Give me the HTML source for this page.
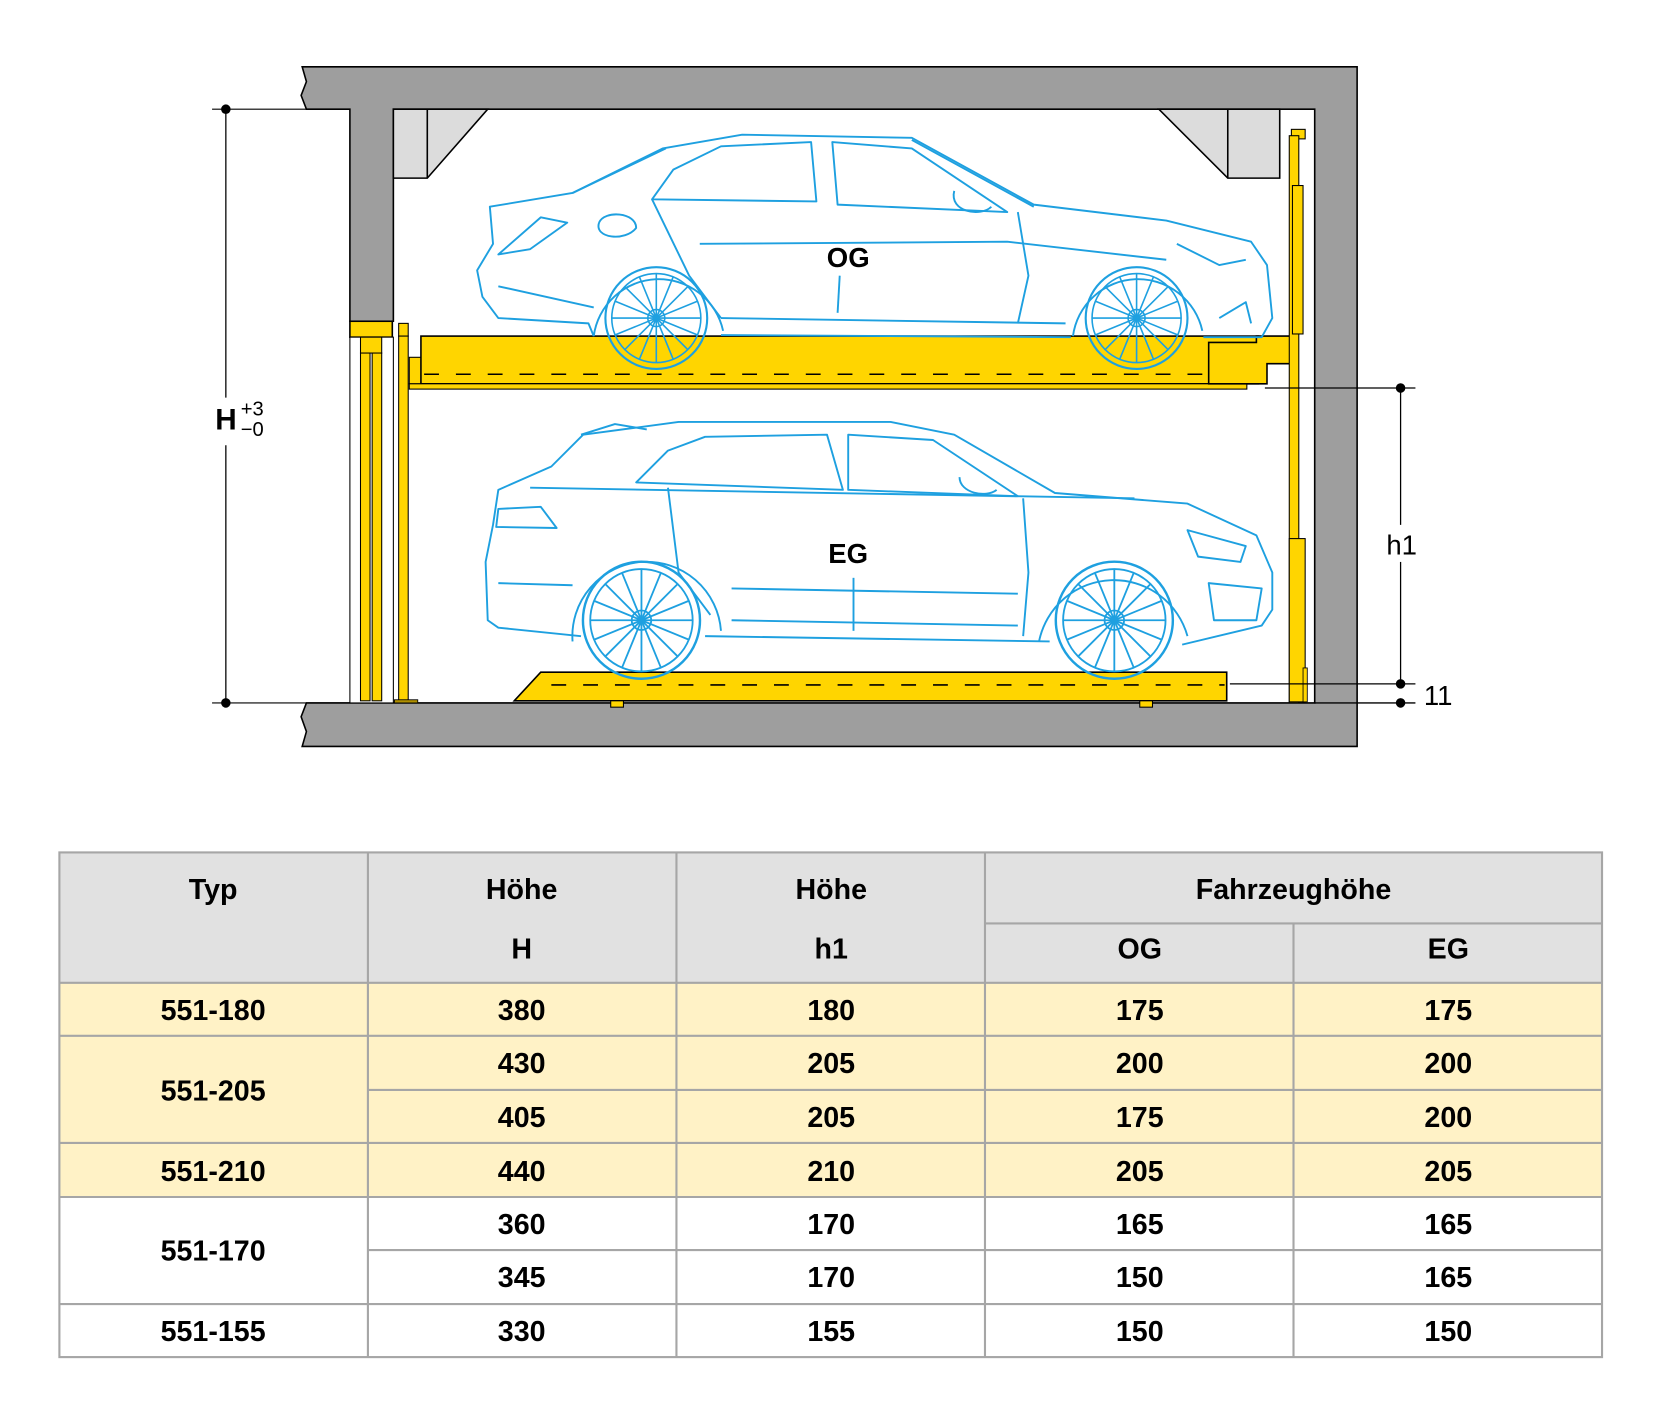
<!DOCTYPE html>
<html><head><meta charset="utf-8"><style>
html,body{margin:0;padding:0;background:#fff}
svg{display:block}
text{font-family:"Liberation Sans Narrow","Liberation Sans",sans-serif}
</style></head><body>
<svg width="1654" height="1417" viewBox="0 0 1560 1336.5" xmlns="http://www.w3.org/2000/svg">
<defs>
<g id="wh"><circle r="48" fill="none" stroke="#1ea0e0" stroke-width="2"/><circle r="42" fill="none" stroke="#1ea0e0" stroke-width="1.5"/><circle r="8" fill="none" stroke="#1ea0e0" stroke-width="1.5"/>
<g stroke="#1ea0e0" stroke-width="1.5">
<line x1="0" y1="-42" x2="0" y2="42"/><line x1="-42" y1="0" x2="42" y2="0"/><line x1="-30" y1="-30" x2="30" y2="30"/><line x1="-30" y1="30" x2="30" y2="-30"/>
<line x1="-16" y1="-39" x2="16" y2="39"/><line x1="16" y1="-39" x2="-16" y2="39"/><line x1="-39" y1="-16" x2="39" y2="16"/><line x1="-39" y1="16" x2="39" y2="-16"/></g></g>
</defs>
<!-- walls -->
<path d="M285,63 H1280 V704 H285 L289,690 L284,676 L289,663 H1240 V103 H371 V303 H330 V103 H289 L284,90 L289,77 Z" fill="#9e9e9e" stroke="#000" stroke-width="1.5"/>
<line x1="200" y1="103" x2="330" y2="103" stroke="#000" stroke-width="1"/>
<line x1="200" y1="663" x2="330" y2="663" stroke="#000" stroke-width="1"/>
<!-- ceiling beams -->
<path d="M371,103 H460 L403,168 H371 Z" fill="#dcdcdc" stroke="#000" stroke-width="1.5"/>
<line x1="403" y1="103" x2="403" y2="168" stroke="#000" stroke-width="1.5"/>
<path d="M1093,103 H1207 V168 H1158 Z" fill="#dcdcdc" stroke="#000" stroke-width="1.5"/>
<line x1="1158" y1="103" x2="1158" y2="168" stroke="#000" stroke-width="1.5"/>
<!-- left posts -->
<rect x="330" y="303" width="40" height="15" fill="#ffd500" stroke="#000" stroke-width="1.5"/>
<rect x="330" y="318" width="41" height="345" fill="#fff" stroke="#000" stroke-width="1"/>
<rect x="340" y="318" width="20" height="15" fill="#ffd500" stroke="#000" stroke-width="1"/>
<rect x="340" y="333" width="9" height="328" fill="#ffd500" stroke="#000" stroke-width="1"/>
<rect x="351" y="333" width="9" height="328" fill="#ffd500" stroke="#000" stroke-width="1"/>
<rect x="376" y="305" width="9" height="12" fill="#ffd500" stroke="#000" stroke-width="1"/>
<rect x="376" y="317" width="9" height="345" fill="#ffd500" stroke="#000" stroke-width="1"/>
<rect x="372" y="660" width="22" height="3" fill="#b09000" stroke="#000" stroke-width="0.8"/>
<!-- upper platform -->
<rect x="386" y="337" width="12" height="25" fill="#ffd500" stroke="#000" stroke-width="1"/>
<rect x="397" y="317" width="790" height="45" fill="#ffd500" stroke="#000" stroke-width="1.5"/>
<rect x="386" y="362" width="790" height="5" fill="#ffd500" stroke="#000" stroke-width="1"/>
<path d="M1140,323 H1185 V317 H1220 V343 H1195 V362 H1140 Z" fill="#ffd500" stroke="#000" stroke-width="1.5"/>
<line x1="400" y1="353" x2="1138" y2="353" stroke="#000" stroke-width="1.5" stroke-dasharray="14,16"/>
<!-- right post -->
<rect x="1218" y="122" width="13" height="9" fill="#ffd500" stroke="#000" stroke-width="1"/>
<rect x="1216" y="128" width="9" height="535" fill="#ffd500" stroke="#000" stroke-width="1"/>
<rect x="1219" y="175" width="10" height="140" fill="#ffd500" stroke="#000" stroke-width="1"/>
<rect x="1216" y="508" width="15" height="154" fill="#ffd500" stroke="#000" stroke-width="1"/>
<rect x="1229" y="630" width="4" height="32" fill="#ffd500" stroke="#000" stroke-width="0.8"/>
<!-- lower platform -->
<path d="M485,661 L510,634 H1157 V661 Z" fill="#ffd500" stroke="#000" stroke-width="1.5"/>
<line x1="520" y1="646" x2="1155" y2="646" stroke="#000" stroke-width="1.5" stroke-dasharray="14,16"/>
<rect x="576" y="661" width="12" height="6" fill="#ffd500" stroke="#000" stroke-width="1"/>
<rect x="1075" y="661" width="12" height="6" fill="#ffd500" stroke="#000" stroke-width="1"/>
<!-- sedan -->
<g fill="none" stroke="#1ea0e0" stroke-width="1.8" stroke-linejoin="round">
<path d="M560,317 L555,305 L470,300 L455,280 L450,255 L465,230 L462,195 L540,182 L625,140 L700,127 L860,130 L975,193 L1100,208 L1180,228 L1195,250 L1200,300 L1190,318 L1135,318 M1010,318 L680,316"/>
<path d="M560,317 A62,62 0 0 1 682,312"/><path d="M1012,317 A62,62 0 0 1 1134,312"/>
<path d="M615,188 L635,160 L680,138 L765,134 L770,190 Z"/>
<path d="M785,134 L860,140 L950,200 L790,193 Z"/>
<path d="M615,188 L650,260 L680,300 M960,200 L970,260 L960,305"/>
<path d="M470,240 L510,205 L535,210 L500,235 Z"/>
<path d="M565,210 C560,225 590,228 600,215 C600,200 570,198 565,210"/>
<path d="M660,230 L950,228 L1100,245 M680,300 L1005,305 M470,270 L560,290"/>
<path d="M1110,230 L1150,250 L1175,245 M1150,300 L1175,285 L1180,305"/>
<path d="M540,182 L628,140 M860,132 L975,195"/>
<path d="M900,180 C895,200 925,205 935,195"/>
<path d="M790,295 L792,260"/>
</g>
<use href="#wh" x="619" y="300"/><use href="#wh" x="1072" y="300"/>
<!-- SUV -->
<g fill="none" stroke="#1ea0e0" stroke-width="1.8" stroke-linejoin="round">
<path d="M548,600 L470,592 L460,585 L458,530 L465,495 L470,462 L520,440 L550,410 L640,398 L840,398 L900,410 L995,465 L1120,475 L1185,505 L1200,540 L1200,575 L1190,590 L1115,608 M990,605 L665,600"/>
<path d="M540,605 A68,68 0 0 1 680,595"/><path d="M980,605 A72,72 0 0 1 1120,600"/>
<path d="M600,455 L630,425 L665,412 L780,410 L795,462 Z"/>
<path d="M800,410 L880,415 L960,468 L800,462 Z"/>
<path d="M470,480 L510,478 L525,498 L468,497 Z"/>
<path d="M630,460 L640,540 L670,580 M965,470 L970,540 L965,600"/>
<path d="M500,460 L1070,470 M470,550 L540,552 M690,555 L960,560 M690,585 L960,590"/>
<path d="M1120,500 L1175,515 L1170,530 L1130,525 Z M1140,550 L1190,555 L1185,585 L1145,585 Z"/>
<path d="M548,410 L580,400 L610,405 M905,450 C905,465 930,470 940,462"/>
<path d="M805,595 L805,545"/>
</g>
<use href="#wh" x="605" y="585" transform="translate(605,585) scale(1.15) translate(-605,-585)"/>
<use href="#wh" x="1051" y="585" transform="translate(1051,585) scale(1.15) translate(-1051,-585)"/>
<text x="800" y="252" text-anchor="middle" font-size="26" font-weight="bold">OG</text>
<text x="800" y="531" text-anchor="middle" font-size="26" font-weight="bold">EG</text>
<!-- dims -->
<line x1="213" y1="103" x2="213" y2="375" stroke="#000" stroke-width="1.2"/>
<line x1="213" y1="420" x2="213" y2="663" stroke="#000" stroke-width="1.2"/>
<circle cx="213" cy="103" r="4.5"/><circle cx="213" cy="663" r="4.5"/>
<text x="203" y="405" font-size="28" font-weight="bold" font-family="Liberation Sans">H</text>
<text x="227" y="392" font-size="19" font-family="Liberation Sans">+3</text>
<text x="227" y="411" font-size="19" font-family="Liberation Sans">−0</text>
<line x1="1193" y1="366" x2="1335" y2="366" stroke="#000" stroke-width="1.2"/>
<line x1="1160" y1="645" x2="1335" y2="645" stroke="#000" stroke-width="1.2"/>
<line x1="1240" y1="663" x2="1335" y2="663" stroke="#000" stroke-width="1.2"/>
<line x1="1321" y1="366" x2="1321" y2="495" stroke="#000" stroke-width="1.2"/>
<line x1="1321" y1="530" x2="1321" y2="645" stroke="#000" stroke-width="1.2"/>
<circle cx="1321" cy="366" r="4.5"/><circle cx="1321" cy="645" r="4.5"/><circle cx="1321" cy="663" r="4.5"/>
<text x="1322" y="523" text-anchor="middle" font-size="26" font-family="Liberation Sans">h1</text>
<text x="1343" y="665" font-size="26" font-family="Liberation Sans">11</text>
<!-- table -->
<rect x="56" y="804" width="1455" height="123" fill="#e1e1e1"/>
<rect x="56" y="927" width="1455" height="202" fill="#fff2c6"/>
<g stroke="#a6a6a6" stroke-width="2" fill="none">
<rect x="56" y="804" width="1455" height="476"/>
<line x1="929" y1="871" x2="1511" y2="871"/>
<line x1="56" y1="927" x2="1511" y2="927"/>
<line x1="56" y1="977" x2="1511" y2="977"/>
<line x1="347" y1="1028" x2="1511" y2="1028"/>
<line x1="56" y1="1078" x2="1511" y2="1078"/>
<line x1="56" y1="1129" x2="1511" y2="1129"/>
<line x1="347" y1="1179" x2="1511" y2="1179"/>
<line x1="56" y1="1230" x2="1511" y2="1230"/>
<line x1="347" y1="804" x2="347" y2="1280"/>
<line x1="638" y1="804" x2="638" y2="1280"/>
<line x1="929" y1="804" x2="929" y2="1280"/>
<line x1="1220" y1="871" x2="1220" y2="1280"/>
</g>
<g font-size="27" font-weight="bold" text-anchor="middle">
<text x="201" y="848">Typ</text><text x="492" y="848">Höhe</text><text x="784" y="848">Höhe</text><text x="1220" y="848">Fahrzeughöhe</text>
<text x="492" y="904">H</text><text x="784" y="904">h1</text><text x="1075" y="904">OG</text><text x="1366" y="904">EG</text>
<text x="201" y="962">551-180</text><text x="492" y="962">380</text><text x="784" y="962">180</text><text x="1075" y="962">175</text><text x="1366" y="962">175</text>
<text x="201" y="1038">551-205</text><text x="492" y="1012">430</text><text x="784" y="1012">205</text><text x="1075" y="1012">200</text><text x="1366" y="1012">200</text>
<text x="492" y="1063">405</text><text x="784" y="1063">205</text><text x="1075" y="1063">175</text><text x="1366" y="1063">200</text>
<text x="201" y="1114">551-210</text><text x="492" y="1114">440</text><text x="784" y="1114">210</text><text x="1075" y="1114">205</text><text x="1366" y="1114">205</text>
<text x="201" y="1189">551-170</text><text x="492" y="1164">360</text><text x="784" y="1164">170</text><text x="1075" y="1164">165</text><text x="1366" y="1164">165</text>
<text x="492" y="1214">345</text><text x="784" y="1214">170</text><text x="1075" y="1214">150</text><text x="1366" y="1214">165</text>
<text x="201" y="1265">551-155</text><text x="492" y="1265">330</text><text x="784" y="1265">155</text><text x="1075" y="1265">150</text><text x="1366" y="1265">150</text>
</g>
</svg>
</body></html>
